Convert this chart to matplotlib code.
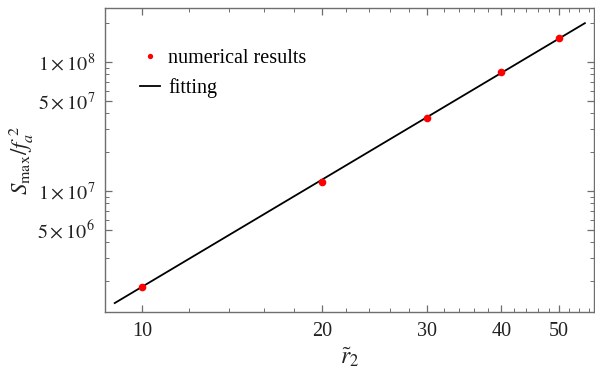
import numpy as np
import matplotlib
matplotlib.use("Agg")
from matplotlib import pyplot as plt
from matplotlib.ticker import FixedLocator, FixedFormatter, NullFormatter

# numerical results
r2 = [10, 20, 30, 40, 50]
s_max = [1.79e6, 1.18e7, 3.70e7, 8.36e7, 1.527e8]

# fitting line (straight in log-log, so two end points)
fit_r2 = [9.0, 55.2]
fit_s = [1.35e6, 2.0e8]

x_ticks = [10, 20, 30, 40, 50]
x_labels = ["10", "20", "30", "40", "50"]
y_ticks = [5e6, 1e7, 5e7, 1e8]
y_labels = [r"$5\times10^{6}$", r"$1\times10^{7}$", r"$5\times10^{7}$", r"$1\times10^{8}$"]

plt.rcParams['font.family'] = ['Liberation Serif', 'DejaVu Serif']
plt.rcParams['mathtext.fontset'] = 'stix'

fig = plt.figure(figsize=(5.95, 3.68), dpi=100)
ax = fig.add_axes([0.1765, 0.152, 0.822, 0.825])

ax.plot(fit_r2, fit_s, '-', color='black', lw=1.3, label='fitting', zorder=2)
ax.plot(r2, s_max, 'o', color='red', ms=5.5, mec='none', label='numerical results', zorder=3)

ax.set_xscale('log')
ax.set_yscale('log')
ax.set_xlim(8.67, 57.2)
ax.set_ylim(1.15e6, 2.6e8)

ax.xaxis.set_major_locator(FixedLocator(x_ticks))
ax.xaxis.set_major_formatter(FixedFormatter(x_labels))
ax.xaxis.set_minor_locator(FixedLocator([v for v in range(12, 58, 2) if v % 10 != 0]))
ax.xaxis.set_minor_formatter(NullFormatter())

ax.yaxis.set_major_locator(FixedLocator(y_ticks))
ax.yaxis.set_major_formatter(FixedFormatter(y_labels))
minor_y = [m * 10.0 ** e for e in range(6, 9) for m in range(1, 10)]
minor_y = [v for v in minor_y if v not in y_ticks]
ax.yaxis.set_minor_locator(FixedLocator(minor_y))
ax.yaxis.set_minor_formatter(NullFormatter())

for side in ax.spines.values():
    side.set_color('#6e6e6e')
    side.set_linewidth(1.0)
ax.tick_params(which='both', direction='in', top=True, right=True, color='#6e6e6e',
               labelsize=14.5, labelcolor='#222222')
ax.tick_params(which='major', length=5, width=0.9, pad=7)
ax.tick_params(which='minor', length=2.8, width=0.7)

ax.set_xlabel(r"$\tilde{r}_2$", fontsize=17, color='#222222', labelpad=3)
ax.set_ylabel(r"$S_{\max}/f_a^{\ 2}$", fontsize=16.5, color='#222222')
ax.yaxis.set_label_coords(-0.142, 0.5)

handles, labels = ax.get_legend_handles_labels()
leg = ax.legend(handles[::-1], labels[::-1], loc='upper left', bbox_to_anchor=(0.035, 0.925),
                frameon=False, fontsize=14.5, handlelength=1.0, handletextpad=0.4,
                labelspacing=0.5, markerscale=0.7)

fig.savefig("out.png", dpi=100)
